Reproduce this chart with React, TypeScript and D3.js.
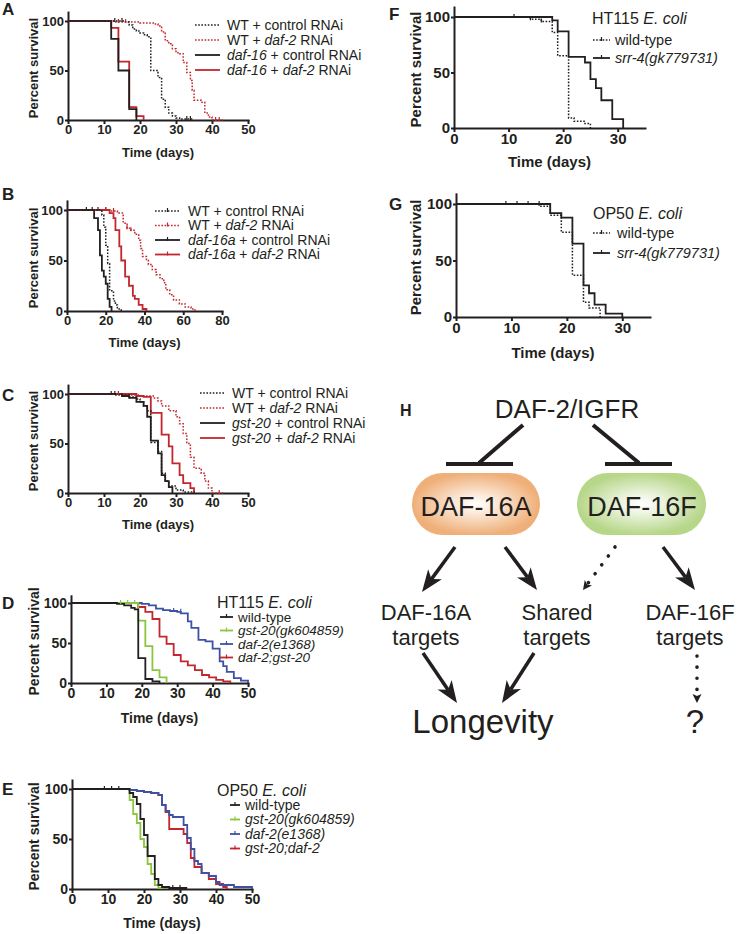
import React, { useRef, useEffect } from 'react';
import * as d3 from 'd3';

type Pt = [number, number];
type Seg = [string, boolean];

const FONT = "'Liberation Sans', Arial, Helvetica, sans-serif";
const BLACK = '#231f20';
const RED = '#c1272d';
const GREEN = '#8cc63f';
const BLUE = '#3f51a3';

// ---------- A: daf-16 null +/- daf-2 RNAi ----------
const aWtCtrl: Pt[] = [[0, 100], [16, 99], [17, 96], [18, 92], [19, 90], [20, 88], [21, 86], [22, 84], [23, 50], [25, 43], [26, 21], [27, 13], [28, 7], [29, 4], [30, 2], [31, 1], [35, 1]];
const aWtCtrlCens: Pt[] = [[13, 100], [15, 100], [33, 1], [34, 1]];
const aWtDaf2: Pt[] = [[0, 100], [13, 99], [20, 98], [24, 97], [25, 95], [26, 89], [27, 80], [28, 77], [29, 72], [30, 68], [31, 67], [32, 58], [33, 48], [34, 40], [34.5, 30], [35, 20], [37, 18], [38, 7], [39, 3], [40, 0], [43, 0]];
const aWtDaf2Cens: Pt[] = [[14, 99], [16, 99], [41, 0], [42, 0]];
const aD16Ctrl: Pt[] = [[0, 100], [12, 82], [14, 50], [17, 11], [19, 0]];
const aD16Daf2: Pt[] = [[0, 100], [12, 93], [14, 59], [17, 13], [19, 4], [21, 0]];
const aLabels: Seg[][] = [
  [['WT + control RNAi', false]],
  [['WT + ', false], ['daf-2', true], [' RNAi', false]],
  [['daf-16', true], [' + control RNAi', false]],
  [['daf-16', true], [' + ', false], ['daf-2', true], [' RNAi', false]],
];

// ---------- B: daf-16a ----------
const bWtCtrl: Pt[] = [[0, 100], [18, 95], [19, 83], [20, 65], [21, 47], [22, 20], [24, 10], [25, 6], [26, 2], [28, 0]];
const bWtCtrlCens: Pt[] = [[10, 100], [13, 100], [16, 100]];
const bWtDaf2: Pt[] = [[0, 100], [22, 99], [26, 97], [29, 87], [31, 82], [33, 80], [35, 76], [37, 70], [38, 62], [39, 54], [41, 50], [42, 46], [44, 41], [46, 36], [48, 32], [50, 28], [51, 21], [53, 16], [55, 11], [58, 7], [61, 4], [64, 2], [66, 0]];
const bWtDaf2Cens: Pt[] = [[20, 100], [24, 99], [31, 82], [33, 80]];
const bD16aCtrl: Pt[] = [[0, 100], [14, 92], [16, 80], [17, 55], [18, 40], [19, 34], [20, 27], [21, 12], [22, 4], [23, 0]];
const bD16aDaf2: Pt[] = [[0, 100], [22, 97], [24, 92], [25, 80], [27, 64], [28, 50], [30, 34], [32, 25], [34, 15], [35, 12], [37, 6], [39, 2], [41, 0]];
const bD16aDaf2Cens: Pt[] = [[20, 100]];
const bLabels: Seg[][] = [
  [['WT + control RNAi', false]],
  [['WT + ', false], ['daf-2', true], [' RNAi', false]],
  [['daf-16a', true], [' + control RNAi', false]],
  [['daf-16a', true], [' + ', false], ['daf-2', true], [' RNAi', false]],
];

// ---------- C: gst-20 ----------
const cWtCtrl: Pt[] = [[0, 100], [13, 99], [17, 97], [19, 95], [20, 92], [21, 88], [22, 83], [23, 51], [25, 42], [26, 20], [27, 12], [28, 7], [30, 3], [32, 1], [35, 0]];
const cWtCtrlCens: Pt[] = [[12, 100], [13, 100]];
const cWtDaf2: Pt[] = [[0, 100], [16, 99], [20, 98], [24, 96], [25, 93], [26, 88], [28, 83], [30, 77], [31, 70], [32, 60], [33, 50], [34, 36], [35, 25], [37, 20], [38, 12], [39, 5], [40, 0], [43, 0]];
const cWtDaf2Cens: Pt[] = [[14, 100], [42, 0]];
const cGstCtrl: Pt[] = [[0, 100], [15, 98], [17, 96], [19, 92], [21, 88], [22, 77], [23, 53], [25, 40], [26, 18], [27, 12], [28, 6], [29, 0]];
const cGstDaf2: Pt[] = [[0, 100], [19, 98], [21, 97], [23, 81], [26, 59], [28, 47], [29, 30], [31, 18], [32, 10], [34, 5], [35, 0]];
const cLabels: Seg[][] = [
  [['WT + control RNAi', false]],
  [['WT + ', false], ['daf-2', true], [' RNAi', false]],
  [['gst-20', true], [' + control RNAi', false]],
  [['gst-20', true], [' + ', false], ['daf-2', true], [' RNAi', false]],
];

// ---------- D: HT115 ----------
const dWt: Pt[] = [[0, 100], [13, 99], [15, 97], [17, 94], [18, 92], [19, 31], [21, 5], [23, 2], [25, 0]];
const dGst: Pt[] = [[0, 100], [19, 78], [21, 46], [23, 16], [25, 7], [27, 0]];
const dGstCens: Pt[] = [[14, 100], [16, 100], [18, 100]];
const dDaf2: Pt[] = [[0, 100], [20, 99], [22, 97], [24, 93], [26, 91], [28, 90], [30, 89], [31, 87], [33, 77], [34, 69], [36, 54], [38, 52], [40, 43], [42, 27], [43, 21], [44, 14], [46, 6], [48, 3], [50, 0]];
const dDaf2Cens: Pt[] = [[29, 90], [31, 89]];
const dDaf2Gst: Pt[] = [[0, 100], [19, 95], [21, 89], [23, 80], [25, 58], [27, 49], [29, 35], [31, 27], [33, 22], [35, 16], [37, 10], [39, 7], [41, 4], [43, 2], [45, 0]];
const dTitle: Seg[] = [['HT115 ', false], ['E. coli', true]];
const dLabels: Seg[][] = [
  [['wild-type', false]],
  [['gst-20(gk604859)', true]],
  [['daf-2(e1368)', true]],
  [['daf-2;gst-20', true]],
];

// ---------- E: OP50 ----------
const eWt: Pt[] = [[0, 100], [16, 96], [17, 92], [18, 85], [19, 70], [20, 54], [21, 33], [23, 10], [24, 4], [25, 2], [27, 1], [32, 1]];
const eWtCens: Pt[] = [[9, 100], [11, 100], [13, 100], [28, 1], [30, 1]];
const eGst: Pt[] = [[5, 100], [16, 89], [17, 75], [18, 66], [19, 50], [20, 42], [21, 25], [22, 15], [23, 4], [24, 1], [25, 0]];
const eDaf2: Pt[] = [[0, 100], [16, 99], [18, 98], [20, 97], [22, 96], [24, 94], [25, 84], [26, 78], [27, 74], [28, 72], [31, 64], [32, 51], [33, 40], [34, 28], [35, 25], [36, 16], [38, 13], [40, 7], [41, 4], [45, 2], [50, 0]];
const eGstDaf2: Pt[] = [[0, 100], [16, 99], [18, 98], [20, 97], [22, 96], [24, 94], [25, 84], [26, 77], [27, 60], [31, 55], [32, 46], [33, 31], [34, 22], [36, 16], [38, 10], [40, 5], [42, 2], [43, 0]];
const eTitle: Seg[] = [['OP50 ', false], ['E. coli', true]];
const eLabels: Seg[][] = [
  [['wild-type', false]],
  [['gst-20(gk604859)', true]],
  [['daf-2(e1368)', true]],
  [['gst-20;daf-2', true]],
];

// ---------- F / G: srr-4 ----------
const fWt: Pt[] = [[0, 100], [14, 98], [16, 96], [18, 86], [19, 65], [21, 9], [22, 6], [24, 4], [25, 0]];
const fWtCens: Pt[] = [[11, 100], [14, 98], [16, 96]];
const fSrr: Pt[] = [[0, 100], [18, 97], [19, 87], [21, 64], [24, 59], [25, 44], [26, 36], [27, 25], [29, 8], [31, 0]];
const gWt: Pt[] = [[0, 100], [15, 98], [17, 90], [19, 75], [21, 37], [23, 13], [24, 8], [26, 0]];
const gWtCens: Pt[] = [[9, 100], [11, 100], [13, 100], [15, 100]];
const gSrr: Pt[] = [[0, 100], [17, 92], [19, 88], [21, 65], [23, 28], [24, 21], [25, 11], [27, 3], [30, 0]];
const fTitle: Seg[] = [['HT115 ', false], ['E. coli', true]];
const gTitle: Seg[] = [['OP50 ', false], ['E. coli', true]];
const fgLabels: Seg[][] = [
  [['wild-type', false]],
  [['srr-4(gk779731)', true]],
];

interface Series { pts: Pt[]; cens?: Pt[]; color: string; dotted?: boolean }
interface Legend {
  title?: Seg[]; titleX?: number; titleY?: number; titleFs?: number;
  x1: number; x2: number; tx: number; rows: number[]; fs: number; tick: boolean; labels: Seg[][];
}
interface Panel {
  letter: string; lx: number; ly: number;
  left: number; right: number; xMax: number; xTicks: number[];
  bottom: number; top: number; fs: number; ylx: number; tly: number;
  series: Series[]; legend: Legend;
}

const panels: Panel[] = [
  {
    letter: 'A', lx: 2, ly: 15, left: 68, right: 248, xMax: 50, xTicks: [0, 10, 20, 30, 40, 50],
    bottom: 120, top: 21, fs: 13, ylx: 33, tly: 157,
    series: [
      { pts: aWtCtrl, cens: aWtCtrlCens, color: BLACK, dotted: true },
      { pts: aWtDaf2, cens: aWtDaf2Cens, color: RED, dotted: true },
      { pts: aD16Ctrl, color: BLACK },
      { pts: aD16Daf2, color: RED },
    ],
    legend: { x1: 195, x2: 220, tx: 227, rows: [25, 40, 55, 70], fs: 14, tick: false, labels: aLabels },
  },
  {
    letter: 'B', lx: 2, ly: 200, left: 67, right: 222, xMax: 80, xTicks: [0, 20, 40, 60, 80],
    bottom: 311, top: 210, fs: 13, ylx: 33, tly: 347,
    series: [
      { pts: bWtCtrl, cens: bWtCtrlCens, color: BLACK, dotted: true },
      { pts: bWtDaf2, cens: bWtDaf2Cens, color: RED, dotted: true },
      { pts: bD16aCtrl, color: BLACK },
      { pts: bD16aDaf2, cens: bD16aDaf2Cens, color: RED },
    ],
    legend: { x1: 155, x2: 180, tx: 188, rows: [211, 225.5, 240, 254.5], fs: 14, tick: true, labels: bLabels },
  },
  {
    letter: 'C', lx: 2, ly: 401, left: 68, right: 248, xMax: 50, xTicks: [0, 10, 20, 30, 40, 50],
    bottom: 493, top: 394, fs: 13, ylx: 33, tly: 529,
    series: [
      { pts: cWtCtrl, cens: cWtCtrlCens, color: BLACK, dotted: true },
      { pts: cWtDaf2, cens: cWtDaf2Cens, color: RED, dotted: true },
      { pts: cGstCtrl, color: BLACK },
      { pts: cGstDaf2, color: RED },
    ],
    legend: { x1: 200, x2: 225, tx: 232, rows: [393, 408, 423, 438], fs: 14, tick: false, labels: cLabels },
  },
  {
    letter: 'D', lx: 2, ly: 609, left: 71, right: 248, xMax: 50, xTicks: [0, 10, 20, 30, 40, 50],
    bottom: 683, top: 603, fs: 14, ylx: 34, tly: 723,
    series: [
      { pts: dWt, color: BLACK },
      { pts: dGst, cens: dGstCens, color: GREEN },
      { pts: dDaf2, cens: dDaf2Cens, color: BLUE },
      { pts: dDaf2Gst, color: RED },
    ],
    legend: {
      title: dTitle, titleX: 217, titleY: 602, titleFs: 16,
      x1: 220, x2: 233, tx: 238, rows: [617, 630.5, 644, 657.5], fs: 13.5, tick: true, labels: dLabels,
    },
  },
  {
    letter: 'E', lx: 2, ly: 795, left: 72, right: 252, xMax: 50, xTicks: [0, 10, 20, 30, 40, 50],
    bottom: 889, top: 789, fs: 14, ylx: 34, tly: 928,
    series: [
      { pts: eWt, cens: eWtCens, color: BLACK },
      { pts: eGst, color: GREEN },
      { pts: eDaf2, color: BLUE },
      { pts: eGstDaf2, color: RED },
    ],
    legend: {
      title: eTitle, titleX: 217, titleY: 790, titleFs: 16,
      x1: 230, x2: 240, tx: 245, rows: [805, 819.5, 834, 848.5], fs: 14, tick: true, labels: eLabels,
    },
  },
  {
    letter: 'F', lx: 389, ly: 20, left: 454, right: 645, xMax: 35, xTicks: [0, 10, 20, 30],
    bottom: 128, top: 17, fs: 15, ylx: 416, tly: 167,
    series: [
      { pts: fWt, cens: fWtCens, color: BLACK, dotted: true },
      { pts: fSrr, color: BLACK },
    ],
    legend: {
      title: fTitle, titleX: 592, titleY: 18, titleFs: 16,
      x1: 593, x2: 610, tx: 615, rows: [40, 58], fs: 14.5, tick: true, labels: fgLabels,
    },
  },
  {
    letter: 'G', lx: 389, ly: 210, left: 456, right: 650, xMax: 35, xTicks: [0, 10, 20, 30],
    bottom: 317, top: 204, fs: 15, ylx: 416, tly: 358,
    series: [
      { pts: gWt, cens: gWtCens, color: BLACK, dotted: true },
      { pts: gSrr, color: BLACK },
    ],
    legend: {
      title: gTitle, titleX: 593, titleY: 213, titleFs: 16,
      x1: 593, x2: 610, tx: 617, rows: [233, 253], fs: 14.5, tick: true, labels: fgLabels,
    },
  },
];

function addSegs(t: any, segs: Seg[]) {
  segs.forEach(([s, it]) => {
    t.append('tspan').text(s).style('font-style', it ? 'italic' : 'normal');
  });
}

function drawPanel(root: any, p: Panel) {
  const g = root.append('g');
  const x = d3.scaleLinear().domain([0, p.xMax]).range([p.left, p.right]);
  const y = d3.scaleLinear().domain([0, 100]).range([p.bottom, p.top]);
  const yAx = d3.scaleLinear().domain([0, 109]).range([p.bottom, y(109)]);

  const ya = g.append('g').attr('transform', `translate(${p.left},0)`)
    .call(d3.axisLeft(yAx).tickValues([0, 50, 100]).tickSize(3).tickSizeOuter(0).tickPadding(1));
  const xa = g.append('g').attr('transform', `translate(0,${p.bottom})`)
    .call(d3.axisBottom(x).tickValues(p.xTicks).tickSize(4).tickSizeOuter(0).tickPadding(1));
  [ya, xa].forEach((a: any) => {
    a.select('.domain').attr('stroke', BLACK).attr('stroke-width', 2).attr('stroke-linecap', 'square');
    a.selectAll('.tick line').attr('stroke', BLACK).attr('stroke-width', 2);
    a.selectAll('.tick text').attr('fill', BLACK)
      .style('font-family', FONT).style('font-size', `${p.fs}px`).style('font-weight', 'bold');
  });

  const line = d3.line<Pt>().x(d => x(d[0])).y(d => y(d[1])).curve(d3.curveStepAfter);
  // first listed series is drawn on top
  [...p.series].reverse().forEach(s => {
    g.append('path').attr('d', line(s.pts)).attr('fill', 'none')
      .attr('stroke', s.color).attr('stroke-width', s.dotted ? 1.5 : 1.8)
      .attr('stroke-dasharray', s.dotted ? '1.6,1.6' : null);
  });
  p.series.forEach(s => {
    (s.cens || []).forEach(c => {
      g.append('line').attr('x1', x(c[0])).attr('x2', x(c[0]))
        .attr('y1', y(c[1]) - 3).attr('y2', y(c[1]) + 1)
        .attr('stroke', s.color).attr('stroke-width', 1.2);
    });
  });

  // axis titles
  g.append('text').attr('transform', `translate(${p.ylx},${(p.bottom + y(109)) / 2 + 2}) rotate(-90)`)
    .attr('text-anchor', 'middle').attr('dy', '0.35em')
    .style('font-family', FONT).style('font-size', `${p.fs}px`).style('font-weight', 'bold')
    .attr('fill', BLACK).text('Percent survival');
  g.append('text').attr('x', (p.left + p.right) / 2).attr('y', p.tly).attr('text-anchor', 'middle')
    .style('font-family', FONT).style('font-size', `${p.fs}px`).style('font-weight', 'bold')
    .attr('fill', BLACK).text('Time (days)');
  g.append('text').attr('x', p.lx).attr('y', p.ly)
    .style('font-family', FONT).style('font-size', '17px').style('font-weight', 'bold')
    .attr('fill', BLACK).text(p.letter);

  // legend
  const L = p.legend;
  if (L.title) {
    const t = g.append('text').attr('x', L.titleX).attr('y', L.titleY).attr('dy', '0.35em')
      .style('font-family', FONT).style('font-size', `${L.titleFs}px`).style('white-space', 'pre')
      .attr('fill', BLACK);
    addSegs(t, L.title);
  }
  p.series.forEach((s, i) => {
    const ry = L.rows[i];
    g.append('line').attr('x1', L.x1).attr('x2', L.x2).attr('y1', ry).attr('y2', ry)
      .attr('stroke', s.color).attr('stroke-width', s.dotted ? 1.5 : 1.8)
      .attr('stroke-dasharray', s.dotted ? '1.6,1.6' : null);
    if (L.tick) {
      const mx = (L.x1 + L.x2) / 2;
      g.append('line').attr('x1', mx).attr('x2', mx).attr('y1', ry - 3).attr('y2', ry + 1)
        .attr('stroke', s.color).attr('stroke-width', 1.2);
    }
    const t = g.append('text').attr('x', L.tx).attr('y', ry).attr('dy', '0.35em')
      .style('font-family', FONT).style('font-size', `${L.fs}px`).style('white-space', 'pre')
      .attr('fill', BLACK);
    addSegs(t, L.labels[i]);
  });
}

const Arrow: React.FC<{ x1: number; y1: number; x2: number; y2: number; dotted?: boolean }> = ({ x1, y1, x2, y2, dotted }) => {
  const a = Math.atan2(y2 - y1, x2 - x1);
  const len = dotted ? 9 : 22;
  const w = dotted ? 4.5 : 8.5;
  const n = dotted ? 2 : 6;
  const sx = x2 - Math.cos(a) * (len - n);
  const sy = y2 - Math.sin(a) * (len - n);
  return (
    <g>
      <line x1={x1} y1={y1} x2={sx} y2={sy} stroke={BLACK}
        strokeWidth={dotted ? 3.6 : 3.5}
        strokeDasharray={dotted ? '0.1 11' : undefined}
        strokeLinecap={dotted ? 'round' : 'butt'} />
      <path d={`M0,0L${-len},${-w}L${-len + n},0L${-len},${w}Z`}
        transform={`translate(${x2},${y2}) rotate(${(a * 180) / Math.PI})`} fill={BLACK} />
    </g>
  );
};

const Diagram: React.FC = () => (
  <g fontFamily={FONT} fill={BLACK}>
    <defs>
      <radialGradient id="ovalA" cx="50%" cy="50%" r="50%">
        <stop offset="0%" stopColor="#ffffff" />
        <stop offset="35%" stopColor="#fbe6d4" />
        <stop offset="100%" stopColor="#efaf78" />
      </radialGradient>
      <radialGradient id="ovalF" cx="50%" cy="50%" r="50%">
        <stop offset="0%" stopColor="#ffffff" />
        <stop offset="35%" stopColor="#eaf3dc" />
        <stop offset="100%" stopColor="#b6d688" />
      </radialGradient>
    </defs>
    <text x={400} y={416} fontSize={16} fontWeight="bold">H</text>
    <text x={567} y={418} fontSize={26} textAnchor="middle">DAF-2/IGFR</text>

    <line x1={523} y1={425} x2={479} y2={463} stroke={BLACK} strokeWidth={4} />
    <line x1={446} y1={464} x2={513} y2={464} stroke={BLACK} strokeWidth={4} />
    <line x1={593} y1={425} x2={639} y2={463} stroke={BLACK} strokeWidth={4} />
    <line x1={605} y1={464} x2={672} y2={464} stroke={BLACK} strokeWidth={4} />

    <rect x={412} y={473} width={128} height={62} rx={31} fill="url(#ovalA)" />
    <rect x={577} y={473} width={129} height={62} rx={31} fill="url(#ovalF)" />
    <text x={476} y={516} fontSize={27} textAnchor="middle">DAF-16A</text>
    <text x={642} y={516} fontSize={27} textAnchor="middle">DAF-16F</text>

    <Arrow x1={455} y1={547} x2={422} y2={592} />
    <Arrow x1={505} y1={547} x2={537} y2={590} />
    <Arrow x1={615} y1={547} x2={583} y2={590} dotted />
    <Arrow x1={663} y1={547} x2={695} y2={590} />

    <text x={426} y={620} fontSize={22} textAnchor="middle">DAF-16A</text>
    <text x={426} y={645} fontSize={22} textAnchor="middle">targets</text>
    <text x={557} y={620} fontSize={22} textAnchor="middle">Shared</text>
    <text x={557} y={645} fontSize={22} textAnchor="middle">targets</text>
    <text x={690} y={620} fontSize={22} textAnchor="middle">DAF-16F</text>
    <text x={690} y={645} fontSize={22} textAnchor="middle">targets</text>

    <Arrow x1={423} y1={653} x2={457} y2={703} />
    <Arrow x1={534} y1={653} x2={502} y2={703} />
    <Arrow x1={697} y1={656} x2={697} y2={703} dotted />

    <text x={483} y={733} fontSize={33} textAnchor="middle">Longevity</text>
    <text x={695} y={733} fontSize={33} textAnchor="middle">?</text>
  </g>
);

const App: React.FC = () => {
  const ref = useRef<SVGGElement | null>(null);

  useEffect(() => {
    if (!ref.current) return;
    const root = d3.select(ref.current);
    root.selectAll('*').remove();
    panels.forEach(p => drawPanel(root, p));
  }, []);

  return (
    <svg width={737} height={934} style={{ position: 'absolute', left: 0, top: 0, background: '#fff' }}>
      <g ref={ref} />
      <Diagram />
    </svg>
  );
};

export default App;
